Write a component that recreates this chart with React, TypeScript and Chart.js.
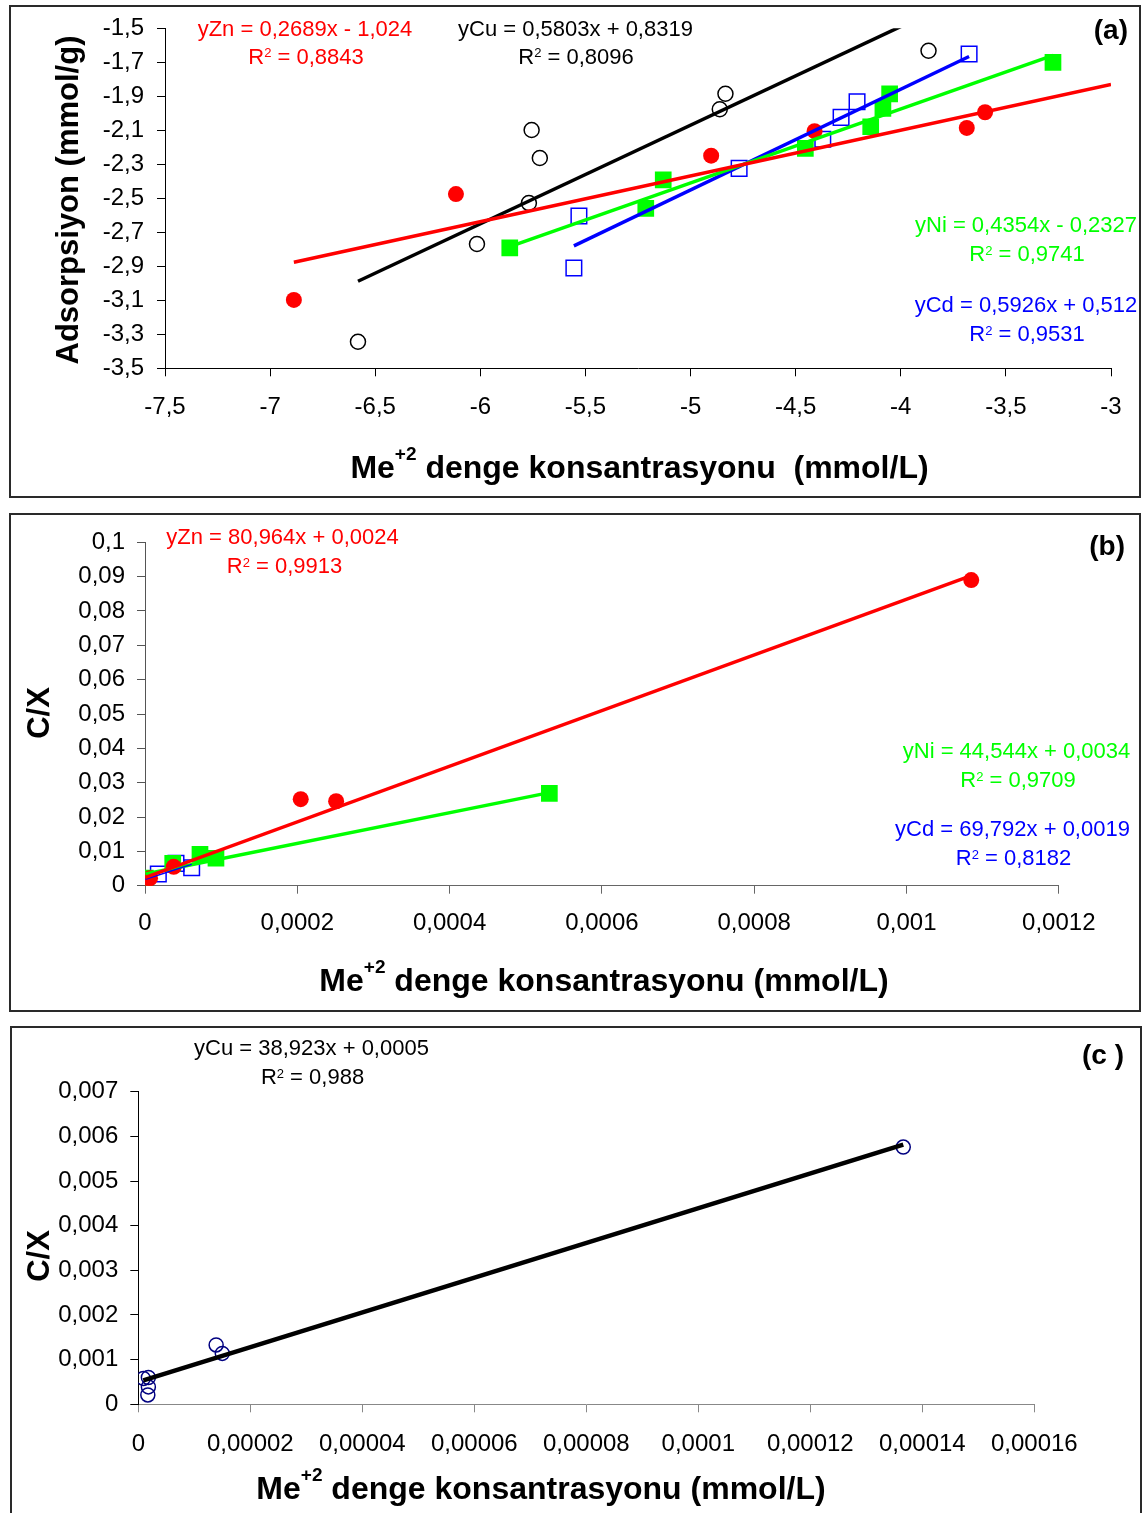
import React, { useEffect, useRef } from 'react';
import { Chart, registerables } from 'chart.js';

Chart.register(...registerables);

const FONT = "'Liberation Sans', Arial, Helvetica, sans-serif";

// ---------------- Panel (a) data ----------------
const aXTicks = [-7.5, -7, -6.5, -6, -5.5, -5, -4.5, -4, -3.5, -3];
const aYTicks = [-3.5, -3.3, -3.1, -2.9, -2.7, -2.5, -2.3, -2.1, -1.9, -1.7, -1.5];

const znA_x = [-6.887, -6.116, -4.902, -4.41, -3.686, -3.599];
const znA_y = [-3.098, -2.475, -2.249, -2.105, -2.086, -1.994];
const cuA_x = [-6.582, -6.016, -5.769, -5.756, -5.717, -4.861, -4.834, -3.868];
const cuA_y = [-3.344, -2.769, -2.528, -2.098, -2.263, -1.976, -1.885, -1.632];
const niA_x = [-5.86, -5.213, -5.13, -4.454, -4.143, -4.085, -4.053, -3.276];
const niA_y = [-2.792, -2.559, -2.392, -2.206, -2.079, -1.971, -1.886, -1.7];
const cdA_x = [-5.555, -5.531, -4.769, -4.371, -4.284, -4.208, -3.675];
const cdA_y = [-2.91, -2.604, -2.324, -2.153, -2.024, -1.932, -1.651];

const znA_fit_x = [-6.887, -3.0];
const znA_fit_y = [-2.876, -1.831];
const cuA_fit_x = [-6.582, -3.868];
const cuA_fit_y = [-2.988, -1.413];
const niA_fit_x = [-5.86, -3.276];
const niA_fit_y = [-2.784, -1.659];
const cdA_fit_x = [-5.555, -3.675];
const cdA_fit_y = [-2.78, -1.666];

// ---------------- Panel (b) data ----------------
const bXTicks = [0, 0.0002, 0.0004, 0.0006, 0.0008, 0.001, 0.0012];
const bYTicks = [0, 0.01, 0.02, 0.03, 0.04, 0.05, 0.06, 0.07, 0.08, 0.09, 0.1];

const znB_x = [0.0000005, 0.0000066, 0.0000377, 0.0002045, 0.000251, 0.001085];
const znB_y = [0.0002, 0.0022, 0.0055, 0.0252, 0.0246, 0.089];
const niB_x = [0.0000005, 0.0000364, 0.0000722, 0.0000932, 0.000531];
const niB_y = [0.0022, 0.0065, 0.0091, 0.008, 0.0269];
const cdB_x = [0.0000005, 0.0000175, 0.0000407, 0.0000613];
const cdB_y = [0.0017, 0.0034, 0.0065, 0.0052];

const znB_fit_x = [0.0000005, 0.001085];
const znB_fit_y = [0.0024, 0.0903];
const niB_fit_x = [0.0000005, 0.000531];
const niB_fit_y = [0.0034, 0.0271];
const cdB_fit_x = [0.0000005, 0.0000613];
const cdB_fit_y = [0.0019, 0.0062];

// ---------------- Panel (c) data ----------------
const cXTicks = [0, 0.00002, 0.00004, 0.00006, 0.00008, 0.0001, 0.00012, 0.00014, 0.00016];
const cYTicks = [0, 0.001, 0.002, 0.003, 0.004, 0.005, 0.006, 0.007];

const cuC_x = [0.0000009, 0.0000018, 0.0000018, 0.0000017, 0.0000139, 0.000015, 0.0001366];
const cuC_y = [0.00058, 0.0006, 0.00039, 0.00021, 0.00133, 0.00114, 0.00576];
const cuC_fit_x = [0.0000009, 0.0001366];
const cuC_fit_y = [0.000535, 0.005817];

// ---------------- helpers ----------------
const pts = (xs: number[], ys: number[]) => xs.map((x, i) => ({ x, y: ys[i] }));

const fmt = (v: number) => {
  if (Math.abs(v) < 1e-12) return '0';
  return parseFloat(v.toPrecision(6)).toString().replace('.', ',');
};

type Part = { t: string; sup?: boolean };
type TextItem = {
  x: number;
  y: number;
  parts: Part[];
  color: string;
  size: number;
  bold?: boolean;
  align?: 'center' | 'right' | 'left';
  rotate?: boolean;
  supSize?: number;
  supRaise?: number;
};

const makeTextPlugin = (items: TextItem[], offY: number) => ({
  id: 'richText',
  afterDraw(chart: any) {
    const ctx: CanvasRenderingContext2D = chart.ctx;
    for (const it of items) {
      ctx.save();
      const weight = it.bold ? 'bold ' : '';
      const mainFont = `${weight}${it.size}px ${FONT}`;
      const supSize = it.supSize ?? Math.round(it.size * 0.6);
      const supFont = `${weight}${supSize}px ${FONT}`;
      let total = 0;
      const widths = it.parts.map((p) => {
        ctx.font = p.sup ? supFont : mainFont;
        const w = ctx.measureText(p.t).width;
        total += w;
        return w;
      });
      ctx.translate(it.x, it.y - offY);
      if (it.rotate) ctx.rotate(-Math.PI / 2);
      let x = it.align === 'right' ? -total : it.align === 'left' ? 0 : -total / 2;
      ctx.fillStyle = it.color;
      ctx.textAlign = 'left';
      ctx.textBaseline = 'alphabetic';
      it.parts.forEach((p, i) => {
        ctx.font = p.sup ? supFont : mainFont;
        ctx.fillText(p.t, x, p.sup ? -(it.supRaise ?? it.size * 0.3) : 0);
        x += widths[i];
      });
      ctx.restore();
    }
  },
});

const eq = (x: number, y: number, color: string, t: string): TextItem => ({
  x, y, color, size: 22, parts: [{ t }],
});
const r2 = (x: number, y: number, color: string, t: string): TextItem => ({
  x, y, color, size: 22, supSize: 13, supRaise: 6.5,
  parts: [{ t: 'R' }, { t: '2', sup: true }, { t }],
});
const xTitle = (x: number, y: number, rest: string): TextItem => ({
  x, y, color: '#000', size: 32, bold: true, supSize: 19, supRaise: 18.5,
  parts: [{ t: 'Me' }, { t: '+2', sup: true }, { t: rest }],
});

interface PanelDef {
  top: number;
  height: number;
  area: { left: number; right: number; top: number; bottom: number };
  xMin: number; xMax: number; xTicks: number[];
  yMin: number; yMax: number; yTicks: number[];
  xAxisColor: string; yAxisColor: string;
  xPad: number; yPad: number;
  datasets: any[];
  texts: TextItem[];
}

const lineDs = (xs: number[], ys: number[], color: string, width: number) => ({
  data: pts(xs, ys), showLine: true, borderColor: color, borderWidth: width,
  pointRadius: 0, pointHoverRadius: 0, fill: false, backgroundColor: color,
});
const markDs = (xs: number[], ys: number[], style: string, r: number, fillC: string, strokeC: string, bw: number) => ({
  data: pts(xs, ys), showLine: false, pointStyle: style, pointRadius: r, pointHoverRadius: r,
  backgroundColor: fillC, borderColor: strokeC, pointBorderWidth: bw, borderWidth: bw,
});

const RED = '#ff0000';
const GREEN = '#00ff00';
const BLUE = '#0000ff';
const NONE = 'rgba(0,0,0,0)';

const panelA: PanelDef = {
  top: 0, height: 500,
  area: { left: 165, right: 1111, top: 28.3, bottom: 368.3 },
  xMin: -7.5, xMax: -3, xTicks: aXTicks,
  yMin: -3.5, yMax: -1.5, yTicks: aYTicks,
  xAxisColor: '#000', yAxisColor: '#000', xPad: 17, yPad: 13,
  datasets: [
    lineDs(znA_fit_x, znA_fit_y, RED, 3.5),
    lineDs(niA_fit_x, niA_fit_y, GREEN, 3.5),
    lineDs(cdA_fit_x, cdA_fit_y, BLUE, 3.5),
    lineDs(cuA_fit_x, cuA_fit_y, '#000', 3.5),
    markDs(znA_x, znA_y, 'circle', 8, RED, RED, 0),
    markDs(cdA_x, cdA_y, 'rect', 11, NONE, BLUE, 1.5),
    markDs(niA_x, niA_y, 'rect', 11.8, GREEN, GREEN, 0),
    markDs(cuA_x, cuA_y, 'circle', 7.5, NONE, '#000', 1.5),
  ],
  texts: [
    eq(305, 36, RED, 'yZn = 0,2689x - 1,024'),
    r2(306, 63.5, RED, ' = 0,8843'),
    eq(575.5, 36, '#000', 'yCu = 0,5803x + 0,8319'),
    r2(576, 63.5, '#000', ' = 0,8096'),
    eq(1026, 232, GREEN, 'yNi = 0,4354x - 0,2327'),
    r2(1027, 261, GREEN, ' = 0,9741'),
    eq(1026, 312, BLUE, 'yCd = 0,5926x + 0,512'),
    r2(1027, 341, BLUE, ' = 0,9531'),
    { x: 1128, y: 39, color: '#000', size: 28, bold: true, align: 'right', parts: [{ t: '(a)' }] },
    xTitle(639.5, 478, ' denge konsantrasyonu  (mmol/L)'),
    { x: 78, y: 200, color: '#000', size: 31, bold: true, rotate: true, parts: [{ t: 'Adsorpsiyon (mmol/g)' }] },
  ],
};

const panelB: PanelDef = {
  top: 513, height: 500,
  area: { left: 145, right: 1058.8, top: 542.3, bottom: 885.7 },
  xMin: 0, xMax: 0.0012, xTicks: bXTicks,
  yMin: 0, yMax: 0.1, yTicks: bYTicks,
  xAxisColor: '#666', yAxisColor: '#555', xPad: 15, yPad: 12,
  datasets: [
    lineDs(znB_fit_x, znB_fit_y, RED, 3.5),
    lineDs(cdB_fit_x, cdB_fit_y, BLUE, 1.5),
    lineDs(niB_fit_x, niB_fit_y, GREEN, 3.5),
    markDs(znB_x, znB_y, 'circle', 8, RED, RED, 0),
    markDs(niB_x, niB_y, 'rect', 11.8, GREEN, GREEN, 0),
    markDs(cdB_x, cdB_y, 'rect', 11, NONE, BLUE, 1.5),
  ],
  texts: [
    eq(282.5, 544, RED, 'yZn = 80,964x + 0,0024'),
    r2(284.5, 573, RED, ' = 0,9913'),
    eq(1016.5, 758, GREEN, 'yNi = 44,544x + 0,0034'),
    r2(1018, 787, GREEN, ' = 0,9709'),
    eq(1012.5, 836, BLUE, 'yCd = 69,792x + 0,0019'),
    r2(1013.5, 865, BLUE, ' = 0,8182'),
    { x: 1125, y: 555, color: '#000', size: 28, bold: true, align: 'right', parts: [{ t: '(b)' }] },
    xTitle(604, 991, ' denge konsantrasyonu (mmol/L)'),
    { x: 49, y: 713, color: '#000', size: 31, bold: true, rotate: true, parts: [{ t: 'C/X' }] },
  ],
};

const panelC: PanelDef = {
  top: 1026, height: 487,
  area: { left: 138.3, right: 1034.3, top: 1091.7, bottom: 1404.3 },
  xMin: 0, xMax: 0.00016, xTicks: cXTicks,
  yMin: 0, yMax: 0.007, yTicks: cYTicks,
  xAxisColor: '#888', yAxisColor: '#000', xPad: 18, yPad: 12,
  datasets: [
    lineDs(cuC_fit_x, cuC_fit_y, '#000', 4.5),
    markDs(cuC_x, cuC_y, 'circle', 7, NONE, '#000080', 1.5),
  ],
  texts: [
    eq(311.5, 1055, '#000', 'yCu = 38,923x + 0,0005'),
    r2(312.5, 1084, '#000', ' = 0,988'),
    { x: 1124, y: 1064, color: '#000', size: 28, bold: true, align: 'right', parts: [{ t: '(c )' }] },
    xTitle(541, 1499, ' denge konsantrasyonu (mmol/L)'),
    { x: 49, y: 1256, color: '#000', size: 31, bold: true, rotate: true, parts: [{ t: 'C/X' }] },
  ],
};

const W = 1147;

function buildChart(canvas: HTMLCanvasElement, p: PanelDef) {
  return new Chart(canvas, {
    type: 'scatter',
    data: { datasets: p.datasets },
    plugins: [makeTextPlugin(p.texts, p.top)],
    options: {
      responsive: false,
      animation: false,
      devicePixelRatio: 1,
      events: [],
      layout: {
        padding: { left: 0, top: p.area.top - p.top, right: W - p.area.right, bottom: 0 },
      },
      plugins: { legend: { display: false }, tooltip: { enabled: false } },
      scales: {
        x: {
          type: 'linear',
          position: 'bottom',
          min: p.xMin,
          max: p.xMax,
          afterBuildTicks: (s: any) => {
            s.ticks = p.xTicks.map((v) => ({ value: v }));
          },
          afterFit: (s: any) => {
            s.height = p.top + p.height - p.area.bottom;
          },
          ticks: {
            callback: (v: any) => fmt(Number(v)),
            font: { family: FONT, size: 24 },
            color: '#000',
            padding: p.xPad,
            maxRotation: 0,
            minRotation: 0,
            autoSkip: false,
          },
          grid: { drawOnChartArea: false, drawTicks: true, tickLength: 8, color: p.xAxisColor, lineWidth: 1 },
          border: { display: true, color: p.xAxisColor, width: 1 },
        },
        y: {
          type: 'linear',
          position: 'left',
          min: p.yMin,
          max: p.yMax,
          afterBuildTicks: (s: any) => {
            s.ticks = p.yTicks.map((v) => ({ value: v }));
          },
          afterFit: (s: any) => {
            s.width = p.area.left;
          },
          ticks: {
            callback: (v: any) => fmt(Number(v)),
            font: { family: FONT, size: 24 },
            color: '#000',
            padding: p.yPad,
            autoSkip: false,
          },
          grid: { drawOnChartArea: false, drawTicks: true, tickLength: 8, color: p.yAxisColor, lineWidth: 1 },
          border: { display: true, color: p.yAxisColor, width: 1 },
        },
      },
    } as any,
  });
}

function Panel({ def }: { def: PanelDef }) {
  const ref = useRef<HTMLCanvasElement | null>(null);
  useEffect(() => {
    if (!ref.current) return;
    const chart = buildChart(ref.current, def);
    return () => chart.destroy();
  }, [def]);
  return (
    <canvas
      ref={ref}
      width={W}
      height={def.height}
      style={{ position: 'absolute', left: 0, top: def.top, width: W, height: def.height, display: 'block' }}
    />
  );
}

const boxStyle = (left: number, top: number, right: number, bottom: number): React.CSSProperties => ({
  position: 'absolute',
  left,
  top,
  width: right - left,
  height: bottom - top,
  border: '2px solid #2a2a2a',
  boxSizing: 'border-box',
  pointerEvents: 'none',
});

export default function App() {
  return (
    <div style={{ position: 'absolute', left: 0, top: 0, width: W, height: 1513, background: '#fff', overflow: 'hidden' }}>
      <div style={boxStyle(9, 5, 1141, 498)} />
      <div style={boxStyle(9, 513, 1141, 1012)} />
      <div style={boxStyle(10, 1026, 1142, 1516)} />
      <Panel def={panelA} />
      <Panel def={panelB} />
      <Panel def={panelC} />
    </div>
  );
}
